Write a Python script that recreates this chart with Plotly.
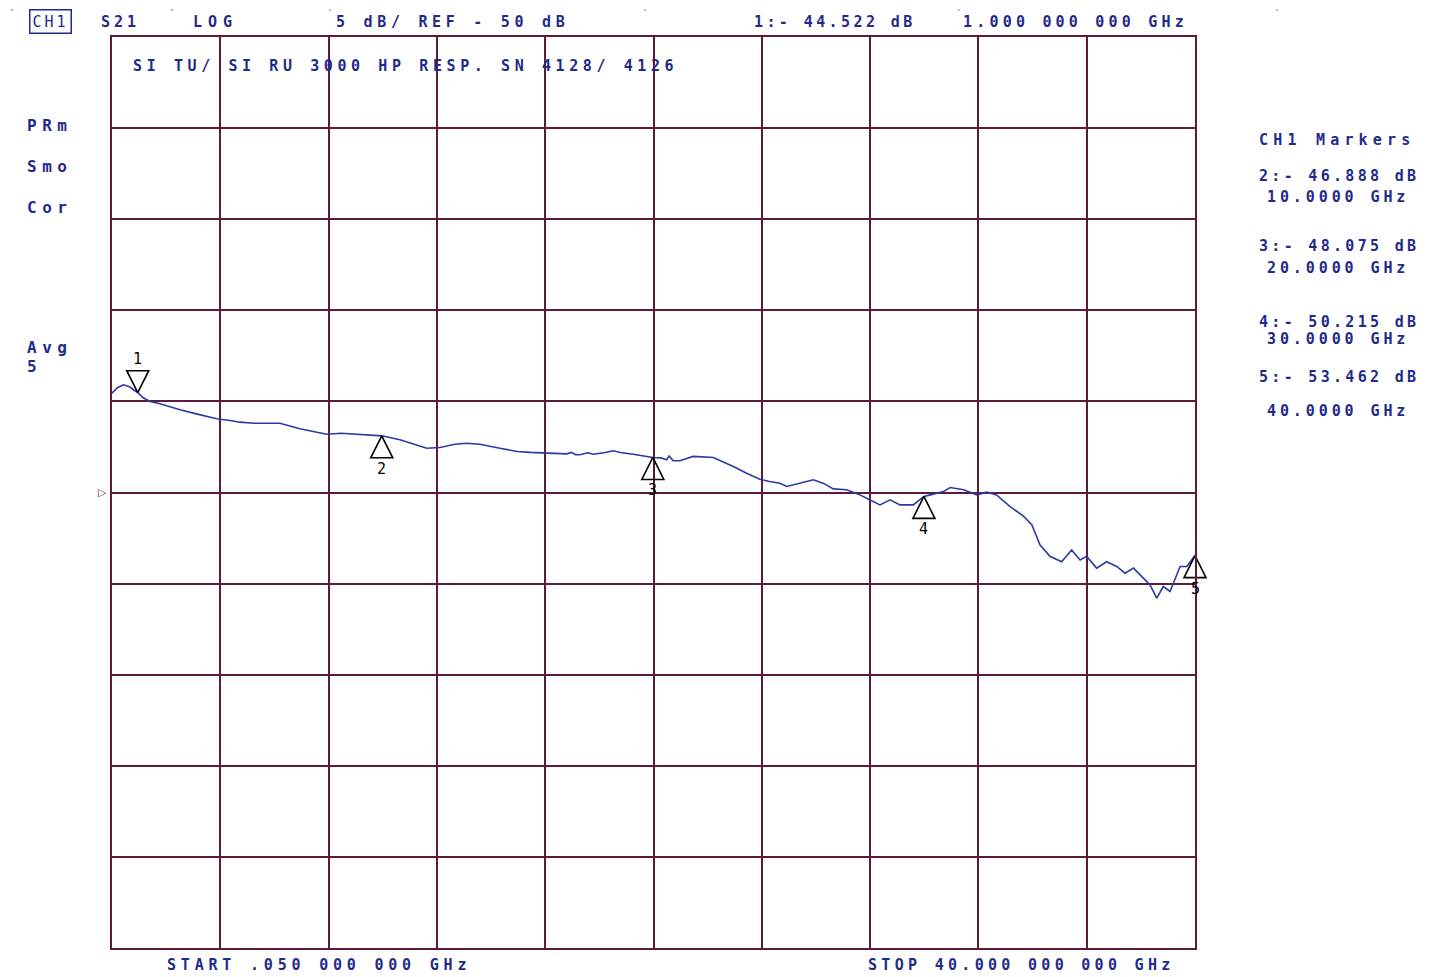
import plotly.graph_objects as go

# ---- data ----
freq_ghz = [0.05, 0.25, 0.47, 0.70, 0.84, 1.00, 1.20, 1.45, 1.82, 2.20, 2.56, 3.20, 3.91, 4.40, 4.77,
            5.30, 6.25, 6.98, 7.97, 8.50, 8.94, 9.50, 10.00, 10.67, 11.20, 11.66, 12.15, 12.70, 13.13,
            13.62, 14.36, 15.00, 15.47, 16.82, 17.00, 17.15, 17.31, 17.60, 17.80, 18.20, 18.54, 18.80,
            19.28, 20.00, 20.30, 20.51, 20.60, 20.75, 21.00, 21.49, 22.23, 22.97, 23.46, 23.95, 24.30,
            24.69, 24.94, 25.40, 25.92, 26.30, 26.66, 27.15, 27.64, 28.00, 28.38, 28.75, 29.12, 29.61,
            30.00, 30.24, 30.72, 30.97, 31.46, 31.95, 32.32, 32.68, 33.18, 33.67, 33.98, 34.28, 34.65,
            35.08, 35.45, 35.76, 36.00, 36.37, 36.74, 37.11, 37.42, 37.73, 38.09, 38.34, 38.59, 38.83,
            39.08, 39.32, 39.45, 39.70, 40.00]
s21_db = [-44.55, -44.25, -44.09, -44.20, -44.36, -44.52, -44.80, -45.00, -45.13, -45.30, -45.46, -45.70,
          -45.95, -46.05, -46.14, -46.20, -46.20, -46.50, -46.80, -46.75, -46.80, -46.85, -46.89, -47.10,
          -47.35, -47.57, -47.53, -47.35, -47.30, -47.35, -47.57, -47.75, -47.80, -47.88, -47.80, -47.92,
          -47.93, -47.82, -47.90, -47.82, -47.71, -47.80, -47.90, -48.075, -48.10, -48.20, -48.00, -48.25,
          -48.26, -48.02, -48.08, -48.57, -48.94, -49.27, -49.40, -49.49, -49.67, -49.50, -49.30, -49.50,
          -49.80, -49.85, -50.13, -50.40, -50.68, -50.40, -50.68, -50.68, -50.215, -50.13, -49.95, -49.73,
          -49.85, -50.13, -49.98, -50.13, -50.77, -51.30, -51.77, -52.87, -53.50, -53.80, -53.15, -53.70,
          -53.50, -54.15, -53.80, -54.06, -54.43, -54.15, -54.70, -55.07, -55.80, -55.16, -55.43, -54.60,
          -54.06, -54.06, -53.462]

marker_ids = ["1", "2", "3", "4", "5"]
marker_freq = [1.0, 10.0, 20.0, 30.0, 40.0]
marker_db = [-44.522, -46.888, -48.075, -50.215, -53.462]

start_ghz = 0.05
stop_ghz = 40.0
ref_db = -50.0
scale_db = 5.0
divisions = 10

TXT = "#1f2a8c"
GRID = "#5e1a36"
FONT = "DejaVu Sans Mono"

fig = go.Figure()

fig.add_trace(go.Scatter(x=freq_ghz, y=s21_db, mode="lines",
                         line=dict(color="#2a3aa6", width=1.6), hoverinfo="skip", showlegend=False))

# marker triangles (apex on the trace)
fig.add_trace(go.Scatter(x=marker_freq[:1], y=marker_db[:1], mode="markers", cliponaxis=False,
                         marker=dict(symbol="arrow-down-open", size=22, color="black",
                                     line=dict(color="black", width=1.6)),
                         showlegend=False, hoverinfo="skip"))
fig.add_trace(go.Scatter(x=marker_freq[1:], y=marker_db[1:], mode="markers", cliponaxis=False,
                         marker=dict(symbol="arrow-up-open", size=22, color="black",
                                     line=dict(color="black", width=1.6)),
                         showlegend=False, hoverinfo="skip"))

OFF = 8  # page body margin
W, H = 1435 - OFF, 977 - OFF
L, R, T, B = 112, 1195, 37, 948  # plot area in reference pixels


def P(x, y):
    return (x - L) / (R - L), (B - y) / (B - T)


def txt(s, x, y, size=15, sp=4, color=TXT, anchor="left", bold=True, **kw):
    px, py = P(x, y)
    body = f"<b>{s}</b>" if bold else s
    fig.add_annotation(xref="paper", yref="paper", x=px, y=py, xanchor=anchor, yanchor="middle",
                       text=f'<span style="letter-spacing:{sp}px">{body}</span>', showarrow=False,
                       font=dict(family=FONT, size=size, color=color), **kw)


# marker numbers
for mid, f, v in zip(marker_ids, marker_freq, marker_db):
    fig.add_annotation(x=f, y=v, text=mid, showarrow=False, yshift=(34 if mid == "1" else -33),
                       font=dict(family=FONT, size=15, color="black"))

# reference level pointer
fig.add_annotation(xref="paper", yref="y", x=0, y=ref_db, xanchor="right", xshift=-3, text="▷",
                   showarrow=False, font=dict(family="DejaVu Sans", size=11, color="#8a1a30"))

# header
fig.add_annotation(xref="paper", yref="paper", x=P(29, 22)[0], y=P(29, 22)[1], xanchor="left",
                   yanchor="middle", text='<span style="letter-spacing:3px">CH1</span>', showarrow=False,
                   font=dict(family=FONT, size=15, color=TXT), bordercolor=TXT, borderwidth=1.5,
                   borderpad=2)
txt("S21", 99, 22, sp=4)
txt("LOG", 191, 22, sp=6)
txt(f"{scale_db:.0f} dB/ REF {ref_db:.0f} dB".replace("-", "- "), 334, 22, sp=4.7)
txt("1:- " + f"{-marker_db[0]:.3f}" + " dB", 752, 22, sp=3.4)
txt(f"{marker_freq[0]:.3f} 000 000 GHz", 961, 22, sp=4.2)
for xx in [8, 168, 326, 641, 955, 1273]:
    txt("ˊ", xx, 14, size=11, sp=0, bold=False)
txt("SI TU/ SI RU 3000 HP RESP. SN 4128/ 4126", 131, 66, sp=4.6)

# left annotations
txt("PRm", 25, 126, size=16, sp=5.5)
txt("Smo", 25, 167, size=16, sp=5.5)
txt("Cor", 25, 207, size=16, sp=5.5)
txt("Avg", 25, 347, size=16, sp=5.5)
txt("5", 25, 367, size=16, sp=5.5)

# right marker panel
txt("CH1 Markers", 1257, 140, sp=5.2)
ypos = [(176, 197), (246, 268), (322, 339), (377, 411)]
for (ya, yb), mid, f, v in zip(ypos, marker_ids[1:], marker_freq[1:], marker_db[1:]):
    txt(f"{mid}:- {-v:.3f} dB", 1257, ya, sp=3.3)
    txt(f"{f:.4f} GHz", 1265, yb, sp=3.9)

# footer
txt(f"START .{int(round(start_ghz*1000)):03d} 000 000 GHz", 165, 965, sp=4.8)
txt(f"STOP {stop_ghz:.3f} 000 000 GHz", 866, 965, sp=4.3)

top_db = ref_db + scale_db * divisions / 2
bot_db = ref_db - scale_db * divisions / 2
fig.update_xaxes(range=[start_ghz, stop_ghz], tick0=start_ghz, dtick=(stop_ghz - start_ghz) / divisions,
                 showticklabels=False, ticks="", showgrid=True, gridcolor=GRID, gridwidth=2,
                 showline=True, linecolor=GRID, linewidth=2, mirror=True, zeroline=False)
fig.update_yaxes(range=[bot_db, top_db], tick0=bot_db, dtick=scale_db, showticklabels=False, ticks="",
                 showgrid=True, gridcolor=GRID, gridwidth=2, showline=True, linecolor=GRID, linewidth=2,
                 mirror=True, zeroline=False)
fig.update_layout(width=W, height=H,
                  margin=dict(l=L - OFF, r=W - (R - OFF), t=T - OFF, b=H - (B - OFF)),
                  paper_bgcolor="white", plot_bgcolor="white", showlegend=False)

fig.write_html("out.html")
